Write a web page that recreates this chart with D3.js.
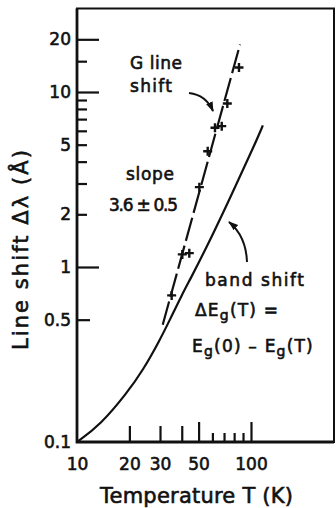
<!DOCTYPE html>
<html><head><meta charset="utf-8">
<script src="https://cdn.jsdelivr.net/npm/d3@7"></script>
<style>
html,body{margin:0;padding:0;background:#fff;}
svg{display:block;}
text{font-family:"DejaVu Sans",sans-serif;fill:#111;stroke:#111;stroke-width:0.6px;}
</style></head><body>
<svg id="chart" width="336" height="508"></svg>
<script>
// ---- data ----
const bandT     = [10, 13.6, 19.4, 24.0, 30.0, 34.2, 40.1, 44.6, 54.4, 72.8, 108.3, 117];
const bandShift = [0.1, 0.125, 0.191, 0.258, 0.384, 0.50, 0.694, 0.846, 1.24, 2.27, 5.35, 6.44];
const gT        = [35.0, 40.3, 44.2, 50.5, 56.4, 62.1, 67.9, 73.1, 85.3];
const gShift    = [0.688, 1.18, 1.20, 2.86, 4.59, 6.25, 6.38, 8.6, 13.8];
const fitT      = [31.1, 86.5];
const fitShift  = [0.468, 18.7];
const xTickLabels = [10, 20, 30, 50, 100];
const yTickLabels = [0.1, 0.5, 1, 2, 5, 10, 20];
const xTicksLong  = [50, 100];
const xTicksMid   = [20, 30, 40];
const xTicksShort = [60, 70, 80, 90];
const yTicksLong  = [1, 10, 20];
const yTicksMid   = [0.5];
const yTicksShort = [2, 3, 4, 5, 6, 7, 8, 9, 15];
const xDomain = [10, 300];
const yDomain = [0.1, 30];

// ---- layout ----
const L = 77, R = 334, B = 442, T = 8.5;
const svg = d3.select("#chart");
const x = d3.scaleLog().domain(xDomain).range([L, R]);
const y = d3.scaleLog().domain(yDomain).range([B, T]);

// frame
svg.append("rect").attr("x", L).attr("y", T).attr("width", R - L).attr("height", B - T)
  .attr("fill", "none").attr("stroke", "#111").attr("stroke-width", 2);
svg.append("path").attr("d", `M${L},${T}V${B}H${R}`).attr("fill", "none")
  .attr("stroke", "#111").attr("stroke-width", 2.8);

function tickAxis(axis, vals, size, tr) {
  const g = svg.append("g").attr("transform", tr)
    .call(axis.tickValues(vals).tickSize(size).tickFormat(""));
  g.select(".domain").remove();
  g.selectAll(".tick line").attr("stroke", "#111").attr("stroke-width", 2.2);
}
tickAxis(d3.axisBottom(x), xTicksLong, -20, `translate(0,${B})`);
tickAxis(d3.axisBottom(x), xTicksMid, -16, `translate(0,${B})`);
tickAxis(d3.axisBottom(x), xTicksShort, -9, `translate(0,${B})`);
tickAxis(d3.axisLeft(y), yTicksLong, -22, `translate(${L},0)`);
tickAxis(d3.axisLeft(y), yTicksMid, -13, `translate(${L},0)`);
tickAxis(d3.axisLeft(y), yTicksShort, -10, `translate(${L},0)`);

// tick labels
const gx = svg.append("g").attr("transform", `translate(0,${B})`)
  .call(d3.axisBottom(x).tickValues(xTickLabels).tickSize(0).tickPadding(16).tickFormat(d3.format("")));
gx.select(".domain").remove();
gx.selectAll("text").attr("font-size", 17).attr("font-family", null).attr("fill", null);
const gy = svg.append("g").attr("transform", `translate(${L},0)`)
  .call(d3.axisLeft(y).tickValues(yTickLabels).tickSize(0).tickPadding(6).tickFormat(d3.format("")));
gy.select(".domain").remove();
gy.selectAll("text").attr("font-size", 17).attr("font-family", null).attr("fill", null);

// axis titles
svg.append("text").attr("x", 196.5).attr("y", 503).attr("text-anchor", "middle")
  .attr("font-size", 21).attr("textLength", 193).attr("lengthAdjust", "spacing")
  .text("Temperature T (K)");
svg.append("text").attr("transform", "translate(28,250) rotate(-90)").attr("text-anchor", "middle")
  .attr("font-size", 21).attr("textLength", 200).attr("lengthAdjust", "spacing")
  .text("Line shift \u0394\u03bb (\u00c5)");

// band shift curve
const band = bandT.map((t, i) => [t, bandShift[i]]);
svg.append("path").datum(band)
  .attr("d", d3.line().x(d => x(d[0])).y(d => y(d[1])).curve(d3.curveBasis))
  .attr("fill", "none").attr("stroke", "#111").attr("stroke-width", 2.2);

// G line fit (dashed)
const fit = fitT.map((t, i) => [t, fitShift[i]]);
svg.append("path").datum(fit)
  .attr("d", d3.line().x(d => x(d[0])).y(d => y(d[1])))
  .attr("fill", "none").attr("stroke", "#111").attr("stroke-width", 2.2)
  .attr("stroke-dasharray", "24,5");

// G line points (plus)
svg.append("g").selectAll("path").data(gT.map((t, i) => [t, gShift[i]])).join("path")
  .attr("transform", d => `translate(${x(d[0])},${y(d[1])})`)
  .attr("d", "M-4.5,0H4.5M0,-4.5V4.5")
  .attr("stroke", "#111").attr("stroke-width", 2.4);

// arrow marker
const defs = svg.append("defs");
defs.append("marker").attr("id", "ah").attr("markerUnits", "userSpaceOnUse")
  .attr("markerWidth", 12).attr("markerHeight", 10).attr("refX", 9).attr("refY", 3.5)
  .attr("orient", "auto")
  .append("path").attr("d", "M0,0L10,3.5L0,7Z").attr("fill", "#111");

svg.append("path").attr("d", "M189,93 Q206,95 213,111")
  .attr("fill", "none").attr("stroke", "#111").attr("stroke-width", 2)
  .attr("marker-end", "url(#ah)");
svg.append("path").attr("d", "M247,262 Q246,236 229,222")
  .attr("fill", "none").attr("stroke", "#111").attr("stroke-width", 2)
  .attr("marker-end", "url(#ah)");

// annotation text
function ann(xp, yp, str, len) {
  const t = svg.append("text").attr("x", xp).attr("y", yp).attr("font-size", 17).text(str);
  if (len) t.attr("textLength", len).attr("lengthAdjust", "spacing");
  return t;
}
ann(130, 68.5, "G line", 52);
ann(130, 92, "shift", 42);
ann(126, 180, "slope", 48);
ann(109, 210.5, "3.6 \u00b1 0.5", 69);
ann(205, 286, "band shift", 99);

const t1 = svg.append("text").attr("x", 195).attr("y", 316).attr("font-size", 17).attr("letter-spacing", 1.2);
t1.append("tspan").text("\u0394E");
t1.append("tspan").attr("font-size", 14).attr("dy", 4).text("g");
t1.append("tspan").attr("dy", -4).text("(T) =");

const t2 = svg.append("text").attr("x", 192).attr("y", 351.5).attr("font-size", 17).attr("letter-spacing", 1.2);
t2.append("tspan").text("E");
t2.append("tspan").attr("font-size", 14).attr("dy", 4).text("g");
t2.append("tspan").attr("dy", -4).text("(0) \u2013 E");
t2.append("tspan").attr("font-size", 14).attr("dy", 4).text("g");
t2.append("tspan").attr("dy", -4).text("(T)");
</script>
</body></html>
